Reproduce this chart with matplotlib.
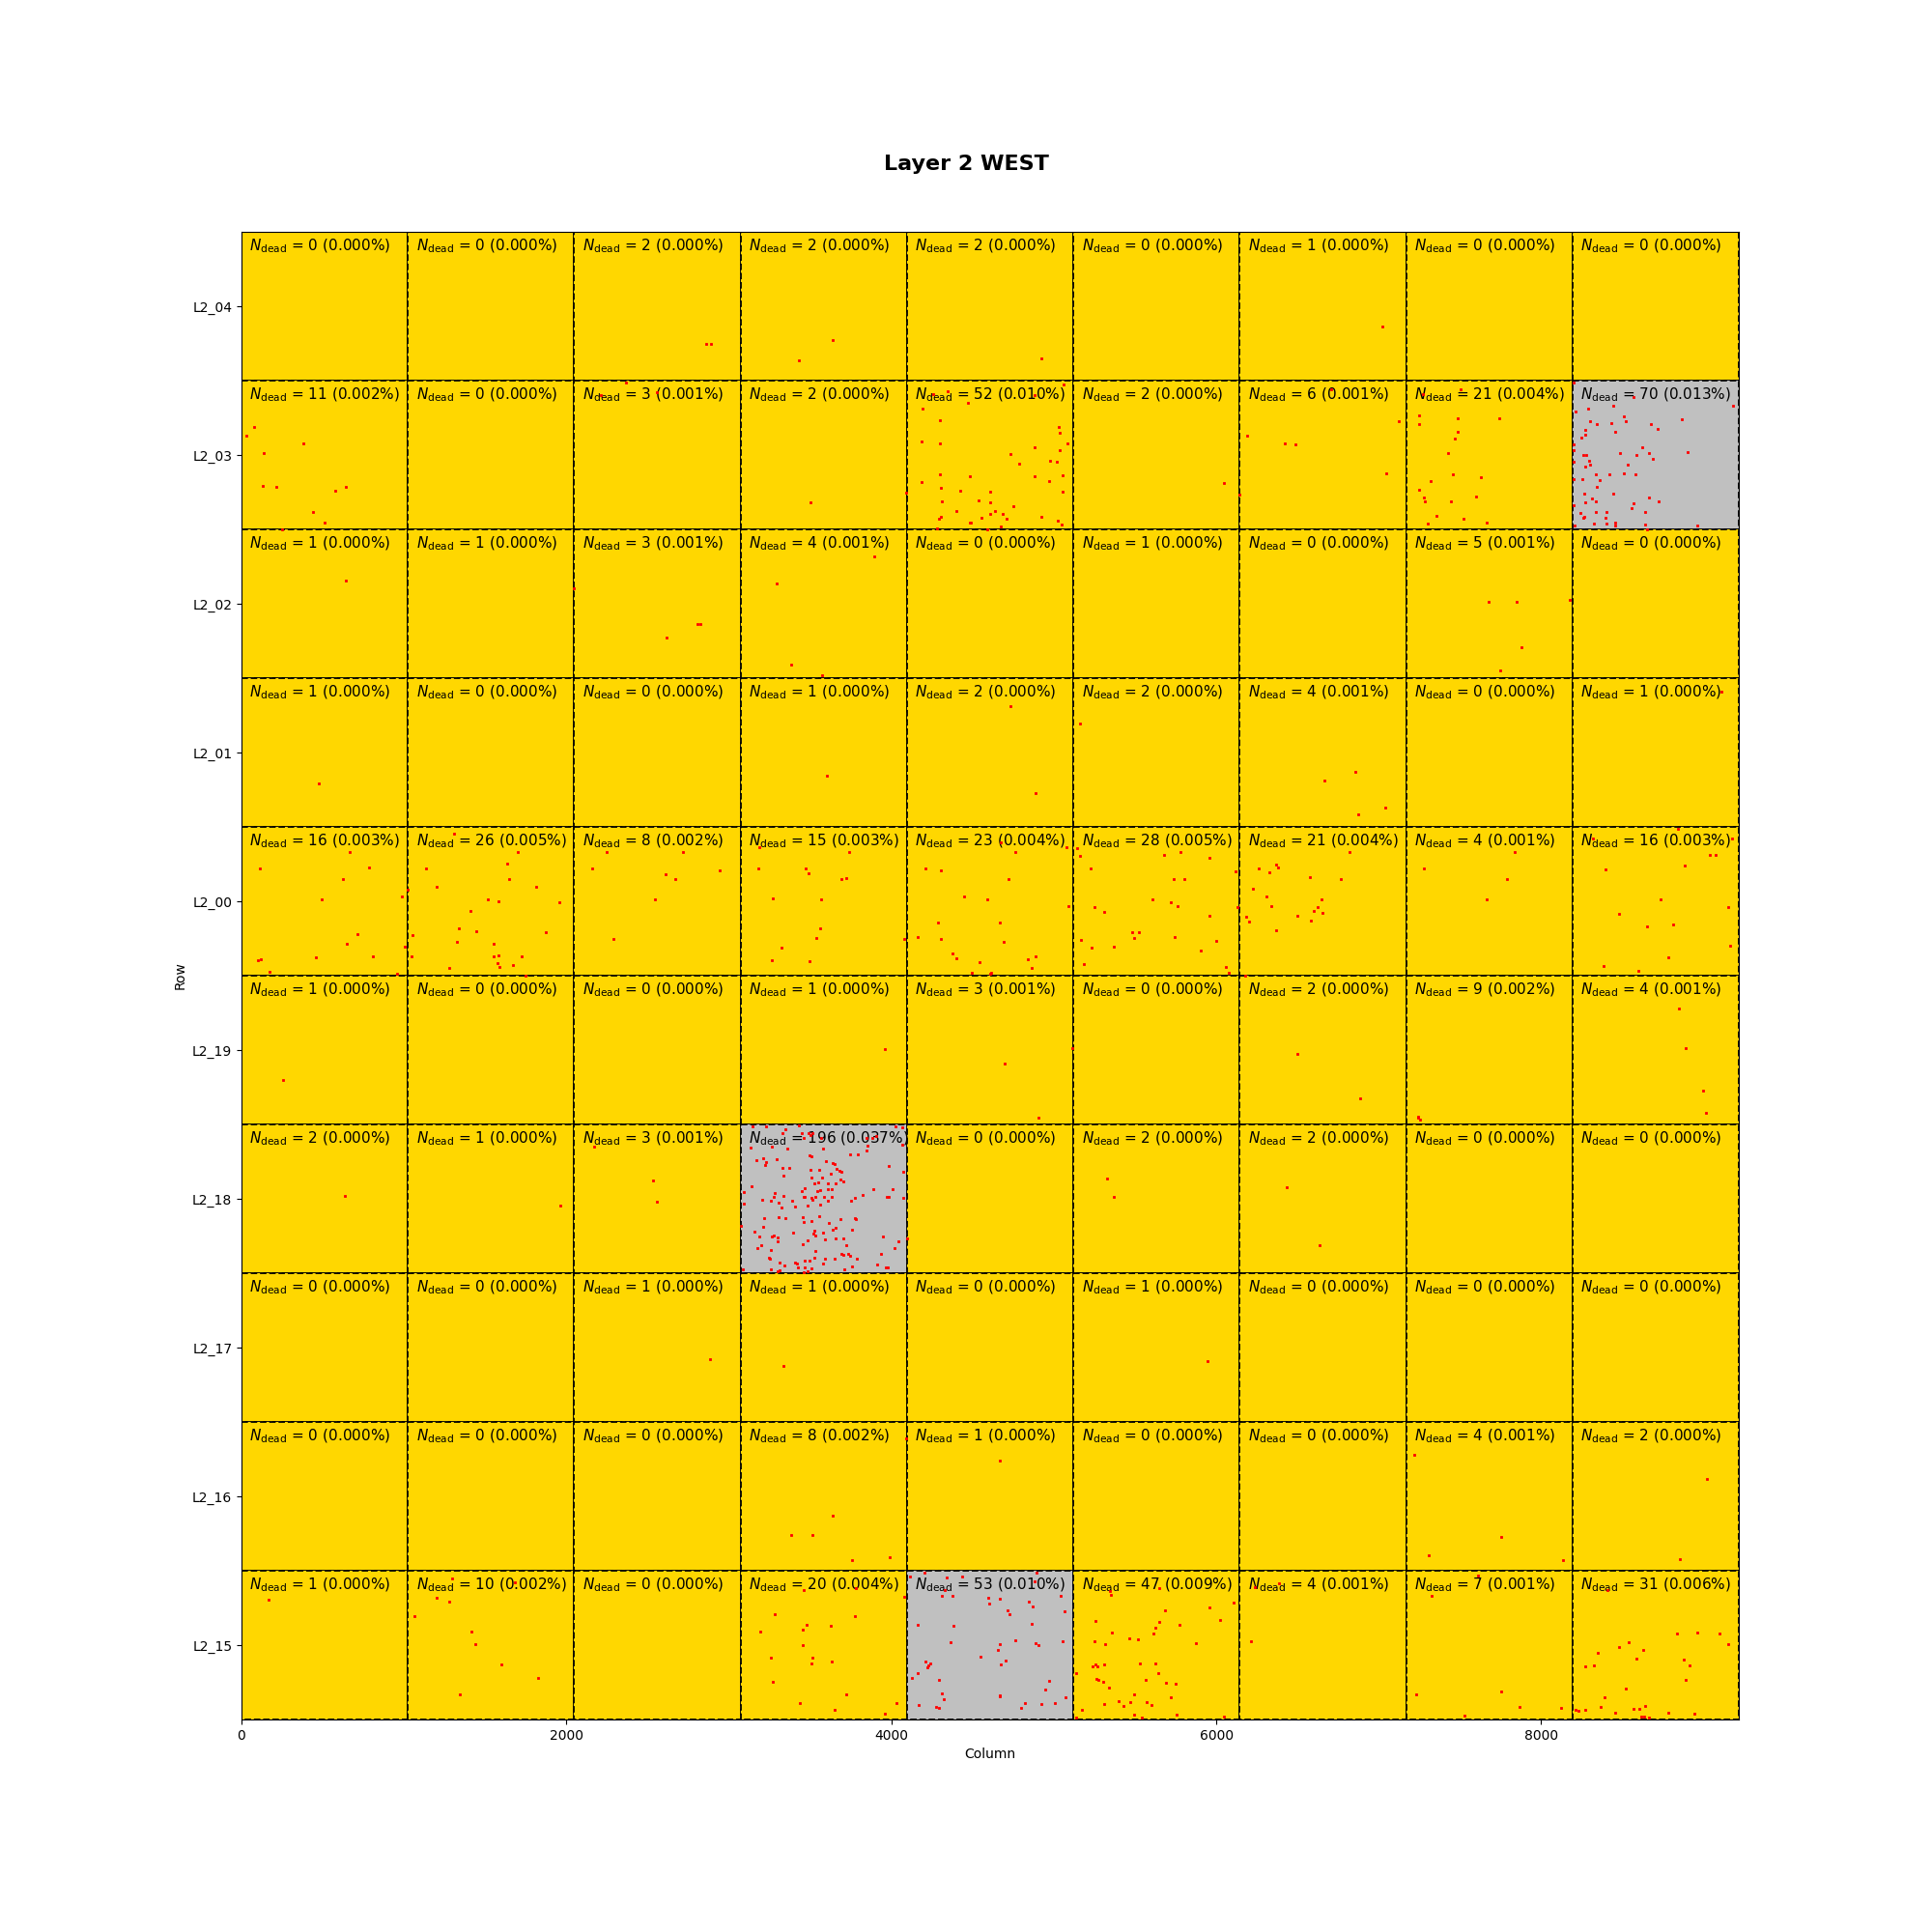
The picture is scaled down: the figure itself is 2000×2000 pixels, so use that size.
import matplotlib.pyplot as plt
from matplotlib.patches import Rectangle

# sensor tile size (pixels)
NX, NY = 1024, 512
NPIX = NX * NY
ncols = 9

row_labels = ['L2_04', 'L2_03', 'L2_02', 'L2_01', 'L2_00',
              'L2_19', 'L2_18', 'L2_17', 'L2_16', 'L2_15']

# number of dead pixels per tile (rows top->bottom, columns left->right)
n_dead = [
    [0, 0, 2, 2, 2, 0, 1, 0, 0],
    [11, 0, 3, 2, 52, 2, 6, 21, 70],
    [1, 1, 3, 4, 0, 1, 0, 5, 0],
    [1, 0, 0, 1, 2, 2, 4, 0, 1],
    [16, 26, 8, 15, 23, 28, 21, 4, 16],
    [1, 0, 0, 1, 3, 0, 2, 9, 4],
    [2, 1, 3, 196, 0, 2, 2, 0, 0],
    [0, 0, 1, 1, 0, 1, 0, 0, 0],
    [0, 0, 0, 8, 1, 0, 0, 4, 2],
    [1, 10, 0, 20, 53, 47, 4, 7, 31],
]

# dead pixel positions (x, y) inside each tile, keyed by column index
dead_L2_04 = {
    2: [(812, 386), (842, 386)],
    3: [(357, 441), (569, 373)],
    4: [(827, 437)],
    6: [(880, 326)],
}
dead_L2_03 = {
    0: [(79, 161), (27, 191), (383, 215), (137, 248), (131, 362), (216, 365),
        (644, 365), (579, 378), (441, 452), (514, 488), (252, 511)],
    2: [(317, 6), (507, 39), (164, 49)],
    3: [(430, 420), (1021, 384)],
    4: [(98, 98), (203, 137), (376, 78), (252, 37), (160, 48), (785, 50),
        (965, 14), (935, 158), (942, 181), (988, 215), (92, 211), (203, 215),
        (788, 228), (638, 252), (690, 285), (883, 275), (925, 278), (938, 238),
        (203, 324), (389, 328), (92, 348), (788, 328), (876, 345), (955, 325),
        (209, 368), (330, 378), (513, 382), (958, 382), (213, 415), (441, 412),
        (513, 418), (657, 432), (304, 449), (543, 449), (513, 459), (592, 459),
        (206, 469), (199, 474), (461, 472), (615, 474), (827, 469), (929, 482),
        (386, 489), (396, 489), (952, 495), (579, 502), (497, 511), (186, 510)],
    5: [(924, 351), (1022, 392)],
    6: [(47, 188), (278, 215), (343, 218), (904, 320), (980, 141), (563, 29)],
    7: [(102, 48), (336, 31), (79, 121), (81, 148), (320, 128), (572, 128),
        (315, 175), (302, 198), (260, 248), (289, 324), (462, 332), (152, 345),
        (81, 375), (110, 402), (113, 415), (278, 414), (428, 398), (189, 465),
        (355, 474), (134, 491), (499, 489)],
    8: [(378, 58), (99, 95), (253, 88), (18, 105), (990, 85), (315, 124),
        (110, 141), (151, 151), (240, 145), (328, 141), (482, 148), (672, 134),
        (523, 165), (81, 168), (78, 185), (263, 175), (57, 195), (5, 220),
        (5, 238), (427, 231), (68, 257), (83, 257), (292, 251), (393, 255),
        (469, 248), (495, 268), (706, 245), (104, 275), (107, 290), (5, 279),
        (339, 290), (81, 295), (146, 324), (226, 324), (315, 320), (388, 324),
        (10, 338), (62, 338), (169, 342), (151, 365), (72, 389), (253, 389),
        (120, 407), (78, 418), (146, 417), (469, 402), (529, 414), (375, 422),
        (5, 428), (364, 438), (47, 454), (146, 452), (211, 452), (450, 452),
        (72, 469), (65, 473), (203, 472), (133, 493), (211, 492), (260, 490),
        (263, 499), (13, 499), (450, 495), (461, 511), (766, 499), (5, 6)],
}
dead_L2_02 = {
    0: [(645, 176)],
    1: [(1020, 202)],
    2: [(569, 371), (759, 325), (774, 325)],
    3: [(220, 185), (820, 92), (311, 465), (501, 503)],
    7: [(509, 248), (683, 248), (713, 405), (577, 486), (1010, 244)],
}
dead_L2_01 = {
    0: [(478, 364)],
    3: [(531, 335)],
    4: [(638, 97), (789, 394)],
    5: [(38, 156)],
    6: [(524, 351), (713, 322), (729, 470), (896, 445)],
    8: [(918, 46)],
}
dead_L2_00 = {
    0: [(667, 88), (114, 144), (785, 141), (625, 181), (1020, 216), (988, 240),
        (494, 250), (713, 370), (647, 403), (1007, 412), (811, 447), (458, 450),
        (121, 456), (101, 460), (173, 500), (958, 505)],
    1: [(284, 23), (674, 88), (612, 127), (114, 144), (625, 181), (180, 207),
        (791, 207), (491, 250), (559, 257), (935, 260), (383, 290), (311, 350),
        (422, 360), (850, 363), (29, 373), (304, 397), (527, 403), (23, 447),
        (530, 447), (559, 442), (703, 447), (549, 470), (566, 483), (644, 476),
        (256, 486), (726, 511)],
    2: [(199, 88), (667, 88), (108, 144), (896, 151), (562, 164), (621, 181),
        (497, 250), (242, 387)],
    3: [(114, 71), (670, 88), (108, 144), (399, 144), (419, 161), (621, 181),
        (651, 177), (199, 247), (497, 250), (491, 350), (468, 383), (252, 417),
        (193, 460), (425, 463), (1007, 387)],
    4: [(579, 54), (667, 88), (984, 71), (111, 144), (206, 151), (625, 181),
        (353, 240), (497, 250), (994, 274), (193, 330), (572, 330), (69, 380),
        (206, 387), (598, 397), (278, 437), (301, 453), (448, 466), (746, 456),
        (791, 447), (768, 486), (402, 502), (517, 502), (510, 507)],
    5: [(24, 74), (42, 101), (108, 144), (559, 97), (662, 88), (840, 107),
        (1000, 154), (620, 181), (685, 181), (488, 250), (601, 260), (643, 274),
        (131, 277), (192, 294), (1008, 277), (840, 307), (362, 363), (404, 363),
        (376, 383), (625, 379), (47, 390), (882, 393), (113, 417), (247, 413),
        (785, 427), (66, 473), (940, 483), (956, 503)],
    6: [(675, 88), (221, 131), (234, 141), (116, 144), (181, 157), (431, 174),
        (625, 181), (84, 214), (163, 240), (502, 250), (192, 274), (478, 277),
        (454, 290), (512, 297), (357, 307), (37, 310), (55, 327), (436, 324),
        (221, 357), (32, 511)],
    7: [(670, 88), (110, 144), (620, 181), (499, 250)],
    8: [(651, 6), (129, 41), (985, 41), (843, 97), (879, 97), (693, 134),
        (205, 147), (544, 250), (956, 277), (284, 300), (462, 343), (617, 337),
        (972, 410), (588, 450), (189, 480), (407, 496)],
}
dead_L2_19 = {
    0: [(258, 358)],
    3: [(888, 252)],
    4: [(600, 303), (812, 490), (1017, 248)],
    6: [(357, 269), (744, 422)],
    7: [(76, 486), (83, 494), (72, 490)],
    8: [(653, 112), (698, 248), (805, 396), (820, 473)],
}
dead_L2_18 = {
    0: [(638, 245)],
    1: [(941, 279)],
    2: [(121, 75), (486, 194), (509, 266)],
    3: [(76, 7), (158, 7), (356, 3), (952, 7), (992, 11), (278, 18), (258, 31),
        (374, 29), (416, 31), (440, 29), (386, 47), (428, 36), (496, 47),
        (772, 48), (812, 47), (780, 72), (832, 40), (994, 69), (62, 80),
        (190, 75), (286, 83), (510, 83), (772, 91), (676, 102), (722, 102),
        (426, 106), (438, 110), (100, 122), (140, 117), (158, 128), (220, 121),
        (152, 139), (528, 127), (564, 132), (576, 136), (914, 143), (256, 150),
        (300, 149), (430, 156), (484, 156), (592, 152), (606, 161), (1000, 163),
        (556, 168), (618, 163), (262, 177), (438, 183), (504, 183), (616, 191),
        (630, 196), (480, 198), (456, 204), (70, 212), (538, 202), (582, 202),
        (396, 218), (376, 229), (472, 229), (490, 226), (536, 222), (560, 224),
        (814, 224), (934, 222), (22, 232), (208, 237), (202, 249), (262, 245),
        (388, 248), (396, 251), (436, 254), (462, 251), (512, 249), (562, 249),
        (706, 252), (752, 243), (898, 248), (912, 248), (1000, 252), (132, 260),
        (186, 261), (316, 262), (444, 260), (540, 264), (678, 262), (232, 270),
        (410, 278), (490, 275), (334, 282), (250, 285), (22, 273), (482, 315),
        (142, 321), (236, 319), (274, 323), (382, 320), (388, 336), (434, 334),
        (544, 339), (706, 321), (712, 327), (616, 325), (2, 348), (140, 353),
        (584, 355), (688, 362), (86, 369), (454, 366), (506, 371), (568, 361),
        (322, 374), (458, 381), (112, 385), (194, 384), (202, 383), (226, 389),
        (446, 377), (520, 394), (582, 392), (632, 393), (878, 384), (1023, 391),
        (974, 402), (226, 403), (412, 400), (126, 417), (106, 424), (384, 413),
        (652, 414), (946, 427), (186, 432), (458, 436), (620, 444), (630, 449),
        (662, 447), (672, 451), (866, 447), (176, 458), (180, 463), (456, 460),
        (392, 469), (424, 469), (522, 461), (580, 462), (714, 461), (238, 475),
        (268, 485), (334, 475), (344, 480), (506, 479), (352, 491), (842, 482),
        (896, 493), (906, 493), (186, 498), (394, 493), (434, 496), (14, 498),
        (242, 501), (226, 504), (386, 509), (410, 504), (640, 499), (688, 488)],
    5: [(205, 186), (250, 249)],
    6: [(288, 215), (493, 415)],
}
dead_L2_17 = {
    2: [(835, 297)],
    3: [(266, 318)],
    5: [(827, 301)],
}
dead_L2_16 = {
    3: [(1017, 57), (311, 388), (440, 388), (569, 324), (683, 477), (918, 464)],
    4: [(569, 133)],
    7: [(53, 112), (137, 460), (584, 396), (964, 477)],
    8: [(827, 197), (660, 472)],
}
dead_L2_15 = {
    0: [(167, 101)],
    1: [(271, 28), (657, 40), (180, 94), (255, 107), (43, 157), (392, 211),
        (412, 254), (576, 324), (804, 370), (320, 427)],
    3: [(389, 68), (710, 61), (1007, 91), (213, 151), (703, 157), (405, 187),
        (556, 191), (121, 211), (383, 204), (383, 257), (186, 300), (441, 300),
        (435, 320), (562, 313), (199, 383), (651, 427), (366, 456), (579, 480),
        (961, 456), (889, 493)],
    4: [(16, 21), (108, 8), (245, 24), (340, 21), (798, 8), (788, 38), (235, 68),
        (212, 88), (281, 88), (948, 88), (500, 94), (569, 97), (504, 114),
        (752, 107), (775, 124), (618, 137), (631, 151), (971, 141), (69, 187),
        (288, 191), (768, 184), (667, 240), (268, 247), (572, 254), (791, 250),
        (811, 256), (955, 244), (559, 274), (455, 297), (608, 310), (579, 324),
        (111, 313), (141, 320), (131, 327), (124, 334), (69, 353), (33, 370),
        (199, 377), (876, 380), (853, 410), (216, 423), (229, 443), (569, 430),
        (572, 431), (978, 437), (72, 463), (177, 470), (199, 473), (729, 456),
        (703, 473), (827, 460), (912, 456)],
    5: [(228, 71), (234, 84), (530, 61), (987, 111), (840, 127), (565, 137),
        (906, 171), (137, 174), (530, 177), (654, 187), (507, 197), (239, 214),
        (494, 217), (347, 234), (399, 237), (131, 244), (197, 254), (756, 250),
        (137, 324), (121, 330), (150, 330), (192, 324), (412, 320), (507, 320),
        (523, 353), (16, 353), (142, 373), (152, 377), (186, 383), (446, 377),
        (572, 387), (630, 390), (221, 403), (375, 427), (601, 437), (281, 450),
        (352, 453), (451, 453), (192, 460), (310, 466), (483, 463), (53, 480),
        (375, 496), (638, 496), (423, 506), (927, 503), (18, 506)],
    6: [(95, 58), (239, 44), (68, 244)],
    7: [(160, 88), (444, 18), (63, 427), (583, 417), (701, 470), (956, 473),
        (360, 500)],
    8: [(218, 68), (646, 217), (767, 214), (903, 217), (956, 254), (347, 247),
        (289, 264), (438, 274), (158, 284), (391, 304), (688, 307), (722, 327),
        (76, 330), (134, 327), (696, 377), (328, 407), (200, 437), (171, 470),
        (21, 480), (37, 483), (81, 480), (263, 490), (378, 477), (410, 477),
        (449, 466), (425, 503), (441, 503), (473, 507), (591, 490), (748, 493)],
}

dead = dict(zip(row_labels, [dead_L2_04, dead_L2_03, dead_L2_02, dead_L2_01,
                             dead_L2_00, dead_L2_19, dead_L2_18, dead_L2_17,
                             dead_L2_16, dead_L2_15]))

fig, ax = plt.subplots(figsize=(20, 20))

for r, lab in enumerate(row_labels):
    for c in range(ncols):
        n = n_dead[r][c]
        frac = n / NPIX
        # tiles above 0.01% dead get greyed out
        face = 'silver' if frac > 1e-4 else 'gold'
        ax.add_patch(Rectangle((c * NX, r * NY), NX, NY, facecolor=face,
                               edgecolor='black', linestyle='--', linewidth=1.3))
        ax.text(c * NX + 50, r * NY + 18,
                r'$N_{\rm dead}$' + f' = {n} ({100 * frac:.3f}%)',
                ha='left', va='top', fontsize=11, zorder=3)
        pts = dead[lab].get(c, [])
        if pts:
            xs = [c * NX + p[0] for p in pts]
            ys = [r * NY + p[1] for p in pts]
            ax.plot(xs, ys, 's', color='red', ms=2.0, mew=0.6, zorder=4)

ax.set_xlim(0, ncols * NX)
ax.set_ylim(len(row_labels) * NY, 0)
ax.set_yticks([r * NY + NY / 2 for r in range(len(row_labels))])
ax.set_yticklabels(row_labels)
ax.set_xlabel('Column')
ax.set_ylabel('Row')
fig.suptitle('Layer 2 WEST', fontsize=16, fontweight='bold', y=0.92)

plt.savefig('out.png')
